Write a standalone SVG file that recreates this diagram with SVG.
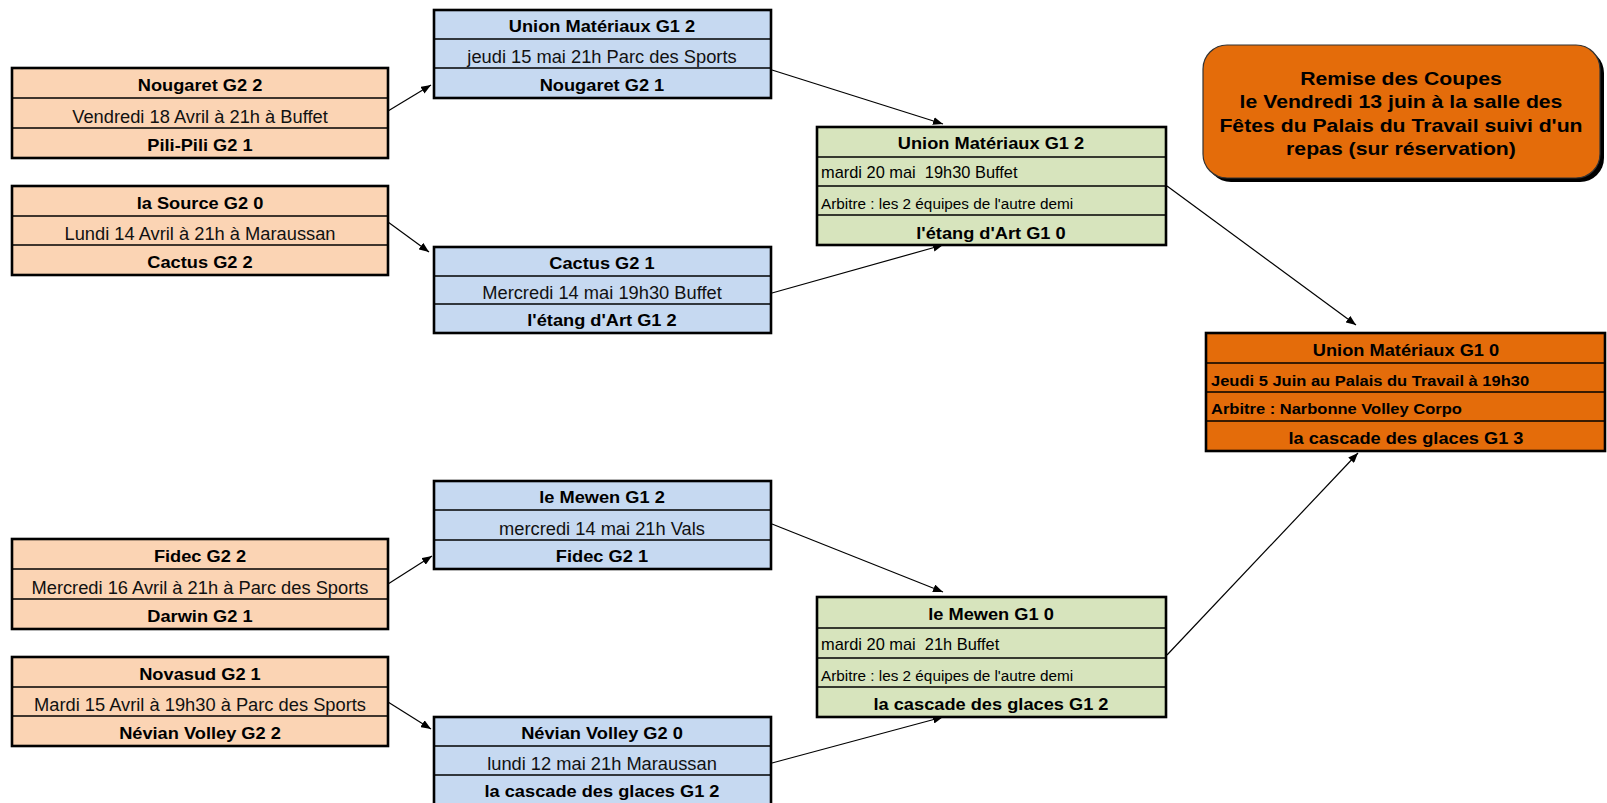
<svg xmlns="http://www.w3.org/2000/svg" width="1607" height="803" viewBox="0 0 1607 803">
<defs>
<marker id="ah" viewBox="0 0 10 8" refX="10" refY="4" markerWidth="10" markerHeight="8" markerUnits="userSpaceOnUse" orient="auto">
<path d="M0,0 L10,4 L0,8 Z" fill="#000"/>
</marker>
</defs>
<style>
text{font-family:"Liberation Sans",Arial,sans-serif;fill:#000;white-space:pre}
.b{font-weight:bold;font-size:16px;text-anchor:middle;transform-box:fill-box;transform-origin:50% 50%;transform:scaleX(1.14)}
.r{font-size:18.3px;text-anchor:middle;fill:#111}
.g2{font-size:16.4px}
.g3{font-size:15.3px}
.fb{font-weight:bold;font-size:15.5px;transform-box:fill-box;transform-origin:0 50%;transform:scaleX(1.065)}
.rem{font-weight:bold;font-size:18.6px;text-anchor:middle;transform-box:fill-box;transform-origin:50% 50%;transform:scaleX(1.14)}
.box{stroke:#000;stroke-width:2.6}
.div{stroke:#000;stroke-width:1.6}
.peach{fill:#FBD4B4}
.blue{fill:#C6D9F1}
.green{fill:#D7E4BD}
.orange{fill:#E46C0A}
.conn{stroke:#000;stroke-width:1.2;fill:none;marker-end:url(#ah)}
</style>

<g id="connectors">
<line class="conn" x1="388" y1="111" x2="431" y2="85"/>
<line class="conn" x1="388" y1="222" x2="429" y2="252"/>
<line class="conn" x1="772" y1="70" x2="943" y2="124"/>
<line class="conn" x1="772" y1="293" x2="943" y2="245"/>
<line class="conn" x1="1167" y1="186" x2="1356" y2="325"/>
<line class="conn" x1="388" y1="584" x2="432" y2="556"/>
<line class="conn" x1="388" y1="702" x2="431" y2="729"/>
<line class="conn" x1="772" y1="524" x2="943" y2="592"/>
<line class="conn" x1="772" y1="763" x2="943" y2="717"/>
<line class="conn" x1="1167" y1="655" x2="1358" y2="453"/>
</g>

<g id="m-nougaret">
<rect class="box peach" x="12" y="68" width="376" height="90"/>
<line class="div" x1="12" y1="98" x2="388" y2="98"/>
<line class="div" x1="12" y1="128" x2="388" y2="128"/>
<text class="b" x="200" y="91">Nougaret G2 2</text>
<text class="r" x="200" y="123">Vendredi 18 Avril à 21h à Buffet</text>
<text class="b" x="200" y="151">Pili-Pili G2 1</text>
</g>

<g id="m-source">
<rect class="box peach" x="12" y="186" width="376" height="89"/>
<line class="div" x1="12" y1="216" x2="388" y2="216"/>
<line class="div" x1="12" y1="245" x2="388" y2="245"/>
<text class="b" x="200" y="209">la Source G2 0</text>
<text class="r" x="200" y="240">Lundi 14 Avril à 21h à Maraussan</text>
<text class="b" x="200" y="268">Cactus G2 2</text>
</g>

<g id="m-fidec">
<rect class="box peach" x="12" y="539" width="376" height="90"/>
<line class="div" x1="12" y1="569" x2="388" y2="569"/>
<line class="div" x1="12" y1="599" x2="388" y2="599"/>
<text class="b" x="200" y="562">Fidec G2 2</text>
<text class="r" x="200" y="594">Mercredi 16 Avril à 21h à Parc des Sports</text>
<text class="b" x="200" y="622">Darwin G2 1</text>
</g>

<g id="m-novasud">
<rect class="box peach" x="12" y="657" width="376" height="89"/>
<line class="div" x1="12" y1="687" x2="388" y2="687"/>
<line class="div" x1="12" y1="716" x2="388" y2="716"/>
<text class="b" x="200" y="680">Novasud G2 1</text>
<text class="r" x="200" y="711">Mardi 15 Avril à 19h30 à Parc des Sports</text>
<text class="b" x="200" y="739">Névian Volley G2 2</text>
</g>

<g id="q-union">
<rect class="box blue" x="434" y="10" width="337" height="88"/>
<line class="div" x1="434" y1="39" x2="771" y2="39"/>
<line class="div" x1="434" y1="68" x2="771" y2="68"/>
<text class="b" x="602" y="32">Union Matériaux G1 2</text>
<text class="r" x="602" y="63">jeudi 15 mai 21h Parc des Sports</text>
<text class="b" x="602" y="91">Nougaret G2 1</text>
</g>

<g id="q-cactus">
<rect class="box blue" x="434" y="247" width="337" height="86"/>
<line class="div" x1="434" y1="276" x2="771" y2="276"/>
<line class="div" x1="434" y1="304" x2="771" y2="304"/>
<text class="b" x="602" y="269">Cactus G2 1</text>
<text class="r" x="602" y="299">Mercredi 14 mai 19h30 Buffet</text>
<text class="b" x="602" y="326">l'étang d'Art G1 2</text>
</g>

<g id="q-mewen">
<rect class="box blue" x="434" y="481" width="337" height="88"/>
<line class="div" x1="434" y1="510" x2="771" y2="510"/>
<line class="div" x1="434" y1="540" x2="771" y2="540"/>
<text class="b" x="602" y="503">le Mewen G1 2</text>
<text class="r" x="602" y="535">mercredi 14 mai 21h Vals</text>
<text class="b" x="602" y="562">Fidec G2 1</text>
</g>

<g id="q-nevian">
<rect class="box blue" x="434" y="717" width="337" height="90"/>
<line class="div" x1="434" y1="746" x2="771" y2="746"/>
<line class="div" x1="434" y1="775" x2="771" y2="775"/>
<text class="b" x="602" y="739">Névian Volley G2 0</text>
<text class="r" x="602" y="770">lundi 12 mai 21h Maraussan</text>
<text class="b" x="602" y="797">la cascade des glaces G1 2</text>
</g>

<g id="s-union">
<rect class="box green" x="817" y="127" width="349" height="118"/>
<line class="div" x1="817" y1="157" x2="1166" y2="157"/>
<line class="div" x1="817" y1="186" x2="1166" y2="186"/>
<line class="div" x1="817" y1="215" x2="1166" y2="215"/>
<text class="b" x="991" y="149">Union Matériaux G1 2</text>
<text class="g2" x="821" y="178">mardi 20 mai  19h30 Buffet</text>
<text class="g3" x="821" y="209">Arbitre : les 2 équipes de l'autre demi</text>
<text class="b" x="991" y="239">l'étang d'Art G1 0</text>
</g>

<g id="s-mewen">
<rect class="box green" x="817" y="597" width="349" height="120"/>
<line class="div" x1="817" y1="628" x2="1166" y2="628"/>
<line class="div" x1="817" y1="658" x2="1166" y2="658"/>
<line class="div" x1="817" y1="687" x2="1166" y2="687"/>
<text class="b" x="991" y="620">le Mewen G1 0</text>
<text class="g2" x="821" y="650">mardi 20 mai  21h Buffet</text>
<text class="g3" x="821" y="681">Arbitre : les 2 équipes de l'autre demi</text>
<text class="b" x="991" y="710">la cascade des glaces G1 2</text>
</g>

<g id="final">
<rect class="box orange" x="1206" y="333" width="399" height="118"/>
<line class="div" x1="1206" y1="363" x2="1605" y2="363"/>
<line class="div" x1="1206" y1="392" x2="1605" y2="392"/>
<line class="div" x1="1206" y1="421" x2="1605" y2="421"/>
<text class="b" x="1406" y="356">Union Matériaux G1 0</text>
<text class="fb" x="1211" y="386">Jeudi 5 Juin au Palais du Travail à 19h30</text>
<text class="fb" x="1211" y="414">Arbitre : Narbonne Volley Corpo</text>
<text class="b" x="1406" y="444">la cascade des glaces G1 3</text>
</g>

<g id="coupes">
<rect x="1207" y="49" width="397" height="133" rx="24" ry="24" fill="#000"/>
<rect x="1203" y="45" width="397" height="133" rx="24" ry="24" fill="#E46C0A" stroke="#333" stroke-width="1.2"/>
<text class="rem" x="1401" y="85">Remise des Coupes</text>
<text class="rem" x="1401" y="108">le Vendredi 13 juin à la salle des</text>
<text class="rem" x="1401" y="132">Fêtes du Palais du Travail suivi d'un</text>
<text class="rem" x="1401" y="155">repas (sur réservation)</text>
</g>
</svg>
